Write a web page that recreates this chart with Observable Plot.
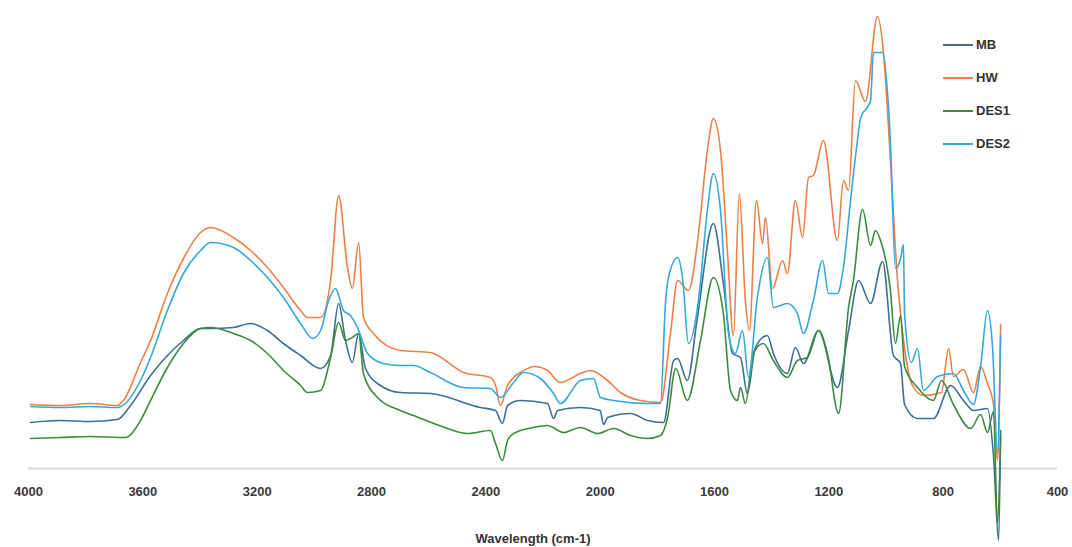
<!DOCTYPE html>
<html>
<head>
<meta charset="utf-8">
<script src="https://cdn.jsdelivr.net/npm/d3@7"></script>
<script src="https://cdn.jsdelivr.net/npm/@observablehq/plot@0.6"></script>
<style>
  html, body { margin: 0; padding: 0; background: #fff; }
  #wrap { position: relative; width: 1072px; height: 547px; font-family: "Liberation Sans", Arial, sans-serif; }
  #legend { position: absolute; left: 943px; top: 28px; }
  .row { display: flex; align-items: center; height: 33px; }
  .sw { width: 30px; height: 2px; margin-right: 3px; }
  .lb { font-size: 13px; font-weight: bold; color: #333; }
</style>
</head>
<body>
<div id="wrap"><div id="legend"></div></div>
<script>
// Series names and colours
const seriesNames = ["MB", "HW", "DES1", "DES2"];
const seriesColors = ["#3b6f95", "#ef7f45", "#3b8b3e", "#33a8dd"];
const xTicks = [4000, 3600, 3200, 2800, 2400, 2000, 1600, 1200, 800, 400];
const xTitle = "Wavelength (cm-1)";

// MB
const mbWave = [3993,3888,3783,3689,3643,3573,3514,3458,3398,3363,3283,3223,3164,3108,3048,2978,2943,2915,2891,2867,2845,2821,2769,2699,2594,2419,2366,2342,2324,2279,2184,2163,2149,2069,2000,1988,1974,1894,1834,1778,1743,1729,1695,1660,1604,1569,1537,1509,1485,1457,1415,1394,1345,1317,1289,1236,1170,1131,1096,1054,1012,974,949,935,890,834,774,729,694,645,624,606,599];
const mbAbs  = [46,48,47,49,63,93,113,128,140,140,141,145,138,125,113,100,113,165,128,106,135,100,83,76,75,61,58,45,63,68,65,50,58,61,58,44,51,55,48,46,108,110,88,151,245,185,115,111,75,121,133,115,95,121,105,138,81,138,188,165,207,113,105,64,50,50,83,68,58,60,13,-72,38];

// HW
const hwWave = [3993,3888,3783,3689,3668,3608,3573,3514,3458,3398,3363,3283,3223,3164,3108,3048,3024,2978,2943,2915,2884,2867,2845,2828,2793,2699,2594,2478,2384,2366,2349,2324,2303,2279,2230,2184,2139,2069,2034,1974,1929,1859,1789,1754,1729,1691,1656,1625,1604,1579,1555,1534,1513,1492,1478,1453,1432,1422,1397,1362,1345,1317,1292,1271,1254,1219,1170,1149,1131,1107,1072,1030,1009,985,960,949,925,911,869,806,781,764,729,694,669,645,624,610,599];
const hwAbs  = [64,63,65,63,68,106,128,175,210,236,241,231,218,201,181,158,151,151,188,273,201,180,226,151,135,118,116,96,91,83,63,83,91,96,102,98,86,95,98,88,76,68,66,135,188,178,235,318,350,318,218,133,275,168,138,268,225,251,180,208,195,268,231,291,293,328,228,288,278,388,367,452,416,311,189,155,102,85,73,76,120,92,99,76,102,85,64,8,144];

// DES1
const des1Wave = [3993,3888,3783,3661,3608,3573,3514,3458,3398,3363,3283,3223,3164,3108,3048,3024,2978,2943,2915,2891,2867,2845,2828,2779,2699,2653,2534,2464,2384,2366,2342,2324,2303,2233,2184,2128,2069,2009,1953,1894,1834,1789,1764,1736,1695,1649,1604,1569,1544,1520,1509,1492,1464,1429,1394,1345,1310,1275,1236,1205,1166,1131,1114,1082,1054,1037,1019,985,967,949,935,890,834,806,764,704,669,645,624,610,599];
const des1Abs  = [30,31,32,31,48,68,101,125,140,141,135,128,115,98,83,76,78,111,146,128,131,135,95,71,58,53,40,35,38,25,8,28,35,41,43,36,41,35,40,33,30,33,51,100,68,128,191,155,78,68,81,65,115,125,108,91,108,111,138,115,55,161,188,259,223,238,228,179,125,153,102,81,68,88,64,40,54,36,57,-54,33];

// DES2
const des2Wave = [3993,3888,3783,3689,3661,3608,3573,3514,3458,3398,3363,3283,3223,3164,3108,3048,3006,2978,2950,2926,2898,2874,2849,2814,2758,2699,2653,2594,2478,2384,2349,2303,2268,2209,2163,2139,2069,2023,1999,1953,1834,1789,1771,1761,1729,1712,1691,1656,1625,1604,1579,1551,1527,1502,1481,1450,1415,1394,1345,1310,1289,1254,1222,1201,1170,1149,1124,1100,1089,1054,1044,1012,985,967,949,939,935,911,890,869,820,764,729,694,669,645,627,610,599];
const des2Abs  = [62,61,62,61,65,88,111,158,195,218,226,221,208,191,171,145,130,138,168,180,158,153,141,115,105,103,103,96,81,80,71,86,96,90,75,65,88,90,71,68,65,65,168,191,211,191,125,168,258,295,258,135,115,138,91,171,211,161,165,155,135,168,208,175,175,201,268,328,350,368,416,416,329,200,210,224,155,106,120,78,92,95,78,64,102,158,120,15,133];

const waves = [mbWave, hwWave, des1Wave, des2Wave];
const absorb = [mbAbs, hwAbs, des1Abs, des2Abs];
const data = seriesNames.flatMap((name, i) =>
  waves[i].map((w, j) => ({series: name, wave: w, value: absorb[i][j]})));

const chart = Plot.plot({
  width: 1072,
  height: 547,
  marginLeft: 28,
  marginRight: 15,
  marginTop: 15,
  marginBottom: 79,
  style: {fontFamily: "'Liberation Sans', Arial, sans-serif", background: "#fff"},
  x: {domain: [4000, 400]},
  y: {domain: [0, 453], axis: null},
  color: {domain: seriesNames, range: seriesColors},
  marks: [
    Plot.ruleY([0], {stroke: "#d9d9d9", strokeWidth: 2}),
    Plot.axisX({ticks: xTicks, tickSize: 0, tickPadding: 18, tickFormat: d3.format("d"),
      fontSize: 13, fontWeight: "bold", fill: "#3a3a3a", label: null}),
    Plot.line(data, {x: "wave", y: "value", z: "series", stroke: "series", strokeWidth: 1.6, curve: "monotone-x"}),
    Plot.text([xTitle], {frameAnchor: "bottom", dy: 74, dx: -10, fontSize: 13, fontWeight: "bold", fill: "#333"})
  ]
});
document.getElementById("wrap").prepend(chart);

const legend = document.getElementById("legend");
seriesNames.forEach((name, i) => {
  const row = document.createElement("div");
  row.className = "row";
  row.innerHTML = `<div class="sw" style="background:${seriesColors[i]}"></div><span class="lb">${name}</span>`;
  legend.appendChild(row);
});
</script>
</body>
</html>
